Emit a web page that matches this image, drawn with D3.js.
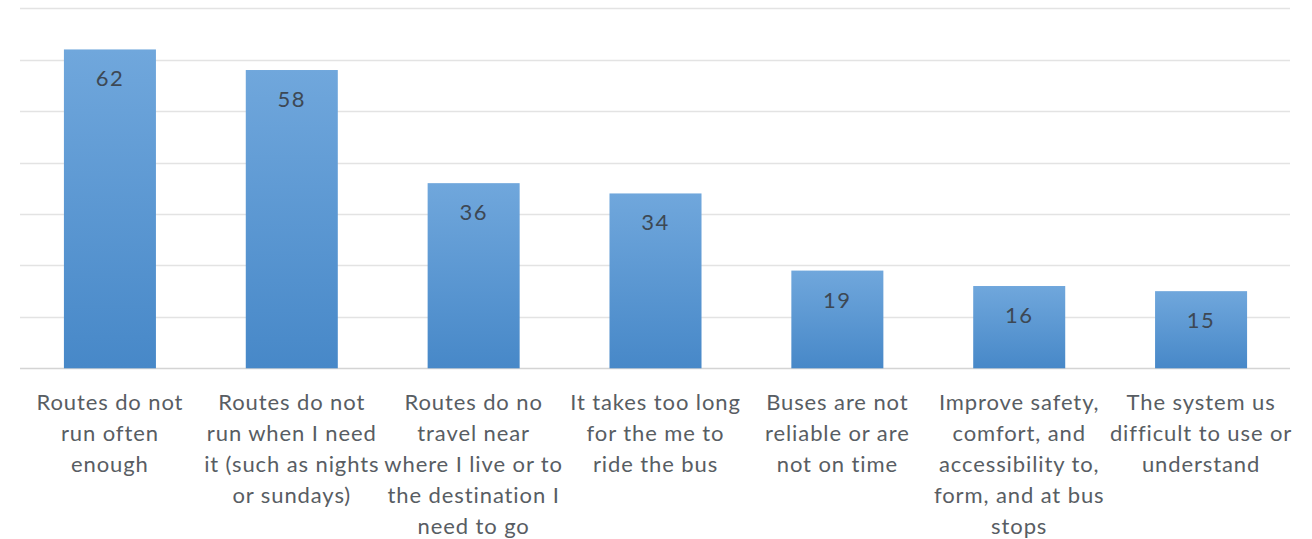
<!DOCTYPE html>
<html>
<head>
<meta charset="utf-8">
<script src="https://cdn.jsdelivr.net/npm/d3@7"></script>
<style>
  html, body { margin: 0; padding: 0; background: #ffffff; }
  svg { display: block; }
</style>
</head>
<body>
<svg id="chart" width="1312" height="539"></svg>
<script>
// Reasons for not riding the bus (number of responses)
const categories = [
  ["Routes do not", "run often", "enough"],
  ["Routes do not", "run when I need", "it (such as nights", "or sundays)"],
  ["Routes do no", "travel near", "where I live or to", "the destination I", "need to go"],
  ["It takes too long", "for the me to", "ride the bus"],
  ["Buses are not", "reliable or are", "not on time"],
  ["Improve safety,", "comfort, and", "accessibility to,", "form, and at bus", "stops"],
  ["The system us", "difficult to use or", "understand"]
];
const values = [62, 58, 36, 34, 19, 16, 15];
const gridTicks = [0, 10, 20, 30, 40, 50, 60, 70];

const svg = d3.select("#chart");
const fontFamily = "Lato, 'Open Sans', sans-serif";

const x = d3.scaleBand()
  .domain(d3.range(categories.length))
  .range([19, 1292])
  .paddingInner(0.494)
  .paddingOuter(0.247);

const y = d3.scaleLinear()
  .domain([0, 70])
  .range([368.3, 8.3]);

// vertical gradient for the bars
const defs = svg.append("defs");
const grad = defs.append("linearGradient")
  .attr("id", "barGrad")
  .attr("x1", 0).attr("y1", 0).attr("x2", 0).attr("y2", 1);
grad.append("stop").attr("offset", "0%").attr("stop-color", "#70a7dc");
grad.append("stop").attr("offset", "100%").attr("stop-color", "#4788c8");

// horizontal gridlines
svg.append("g")
  .selectAll("line")
  .data(gridTicks)
  .join("line")
  .attr("x1", 20)
  .attr("x2", 1290)
  .attr("y1", d => Math.round(y(d)) + 0.5)
  .attr("y2", d => Math.round(y(d)) + 0.5)
  .attr("stroke", d => d === 0 ? "#d4d4d4" : "#e3e3e3")
  .attr("stroke-width", 1.4);

// bars
svg.append("g")
  .selectAll("rect")
  .data(values)
  .join("rect")
  .attr("x", (d, i) => x(i))
  .attr("y", d => y(d))
  .attr("width", x.bandwidth())
  .attr("height", d => y(0) - y(d))
  .attr("fill", "url(#barGrad)");

// value labels inside bar tops
svg.append("g")
  .selectAll("text")
  .data(values)
  .join("text")
  .attr("x", (d, i) => x(i) + x.bandwidth() / 2)
  .attr("y", d => y(d) + 37)
  .attr("text-anchor", "middle")
  .attr("font-family", fontFamily)
  .attr("font-size", 22)
  .attr("letter-spacing", 1.5)
  .attr("fill", "#3d4854")
  .text(d => d);

// category labels below the axis
const catG = svg.append("g")
  .selectAll("text")
  .data(categories)
  .join("text")
  .attr("x", (d, i) => x(i) + x.bandwidth() / 2)
  .attr("y", 410)
  .attr("text-anchor", "middle")
  .attr("font-family", fontFamily)
  .attr("font-size", 22)
  .attr("letter-spacing", 0.9)
  .attr("fill", "#585d63");

catG.selectAll("tspan")
  .data(d => d)
  .join("tspan")
  .attr("x", function () { return d3.select(this.parentNode).attr("x"); })
  .attr("dy", (d, i) => i === 0 ? 0 : 31)
  .text(d => d);
</script>
</body>
</html>
